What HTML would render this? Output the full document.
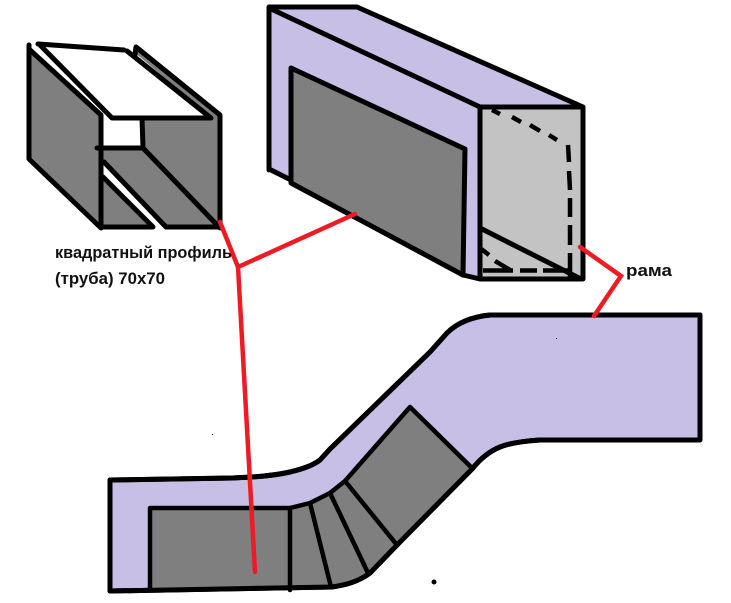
<!DOCTYPE html>
<html>
<head>
<meta charset="utf-8">
<style>
html,body{margin:0;padding:0;background:#fff;width:731px;height:603px;overflow:hidden}
svg{display:block}
text{font-family:"Liberation Sans","DejaVu Sans",sans-serif;font-weight:bold;font-size:16.5px;fill:#111}
</style>
</head>
<body>
<svg width="731" height="603" viewBox="0 0 731 603" xmlns="http://www.w3.org/2000/svg">
<g fill="none" stroke="#000" stroke-width="5" stroke-linecap="round" stroke-linejoin="round">

<!-- Left profile -->
<polygon points="30,50 101,117 101,228 30,159" fill="#7f7f7f" stroke="none"/>
<polygon points="136,48 220,115 220,226 143,148 143,118 212,118 134,52" fill="#7f7f7f" stroke="none"/>
<polygon points="103,150 145,150 219,227 166,227 103,163" fill="#7f7f7f" stroke="none"/>
<polygon points="103,176 153,227 103,227" fill="#7f7f7f" stroke="none"/>
<path d="M29,45 V159 L101,228 V115 L30,50"/>
<path d="M38,44 L124,50"/>
<path d="M39,44 L112,118 H211 L127,51"/>
<path d="M135,55 L136,47 L220,115 V228" stroke-width="5"/>
<path d="M97,148 H143 L219,227"/>
<path d="M142,118 L143,148"/>
<path d="M104,162 L166,227 H219"/>
<path d="M103,177 L153,227 H101"/>

<!-- Upper duct -->
<polygon points="269,6 357,6 583,107 480,107 480,279 464,275 269,170" fill="#c8bfe7" stroke="none"/>
<rect x="480" y="107" width="102" height="172" fill="#c3c3c3" stroke="none"/>
<polygon points="291,68 465,149 463,275 291,183" fill="#7f7f7f" stroke="none"/>
<path d="M269,170 V7 H357 L583,107 V279 H480 V107 H583"/>
<path d="M269,8 L480,107"/>
<path d="M291,68 L465,149 L463,275 L291,183 Z"/>
<path d="M269,169 L291,180"/>
<path d="M463,275 L480,279"/>
<path d="M480,228 L581,279"/>
<g stroke-width="4.5" stroke-linecap="butt">
<path d="M492,110 L500,114"/>
<path d="M512,117 L521,122"/>
<path d="M530,125 L540,131"/>
<path d="M549,135 L557,140"/>
<path d="M568,145 L569,162"/>
<path d="M569,171 L570,190"/>
<path d="M570,198 L570,217"/>
<path d="M570,225 L570,245"/>
<path d="M570,253 L570,277"/>
<path d="M480,248 L489,255"/>
<path d="M495,261 L510,270"/>
<path d="M483,270.5 H513"/>
<path d="M520,270.5 H537"/>
<path d="M543,270.5 H570"/>
</g>

<!-- Lower duct -->
<path d="M110,480 L233,478 C255,477 272,476 290,472 C302,469 312,466 320,460 L330,449 L430,352 L447,333 C456,324 470,317 490,315 L700,315 V440 L540,440 C525,441 510,443 500,447 C490,451 480,459 473,468 L397,545 L370,573 C358,582 345,585 332,587 L110,591 Z" fill="#c8bfe7"/>
<path d="M150,508 H290 L310,503 L330,493 L345,481 L410,407 L472,468 L397,545 L370,573 C358,582 345,585 332,587 L290,589 H150 Z" fill="#7f7f7f" stroke="none"/>
<path d="M110,480 L233,478 C255,477 272,476 290,472 C302,469 312,466 320,460 L330,449 L430,352 L447,333 C456,324 470,317 490,315 L700,315 V440 L540,440 C525,441 510,443 500,447 C490,451 480,459 473,468 L397,545 L370,573 C358,582 345,585 332,587 L110,591 Z"/>
<path d="M150,590 V508 H290 L310,503 L330,493 L345,481 L410,407 L472,468" stroke-width="4.5"/>
<path d="M290,508 V590" stroke-width="4.5"/>
<path d="M310,503 L331,587" stroke-width="4.5"/>
<path d="M330,493 L368,573" stroke-width="4.5"/>
<path d="M345,481 L397,545" stroke-width="4.5"/>
</g>

<!-- Dots -->
<circle cx="434" cy="582" r="2.5" fill="#000"/>
<rect x="212" y="434" width="1" height="1" fill="#000"/>
<rect x="556" y="338" width="1" height="1" fill="#000"/>

<!-- Red leaders -->
<g fill="none" stroke="#ed1c24" stroke-width="4.5" stroke-linecap="round" stroke-linejoin="miter">
<path d="M220,222 L238,267 L355,214"/>
<path d="M238,267 L255,572"/>
<path d="M580,247 L621,276 L594,316"/>
</g>

<!-- Labels -->
<text x="55" y="258" textLength="177" lengthAdjust="spacingAndGlyphs">квадратный профиль</text>
<text x="55" y="284" textLength="110" lengthAdjust="spacingAndGlyphs">(труба) 70х70</text>
<text x="626" y="276" textLength="46" lengthAdjust="spacingAndGlyphs">рама</text>
</svg>
</body>
</html>
